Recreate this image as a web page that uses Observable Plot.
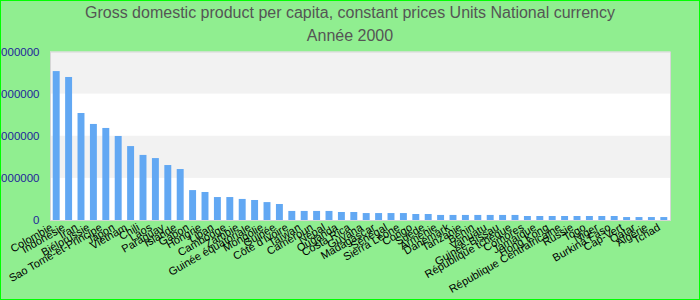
<!DOCTYPE html>
<html><head><meta charset="utf-8">
<script src="https://cdn.jsdelivr.net/npm/d3@7"></script>
<script src="https://cdn.jsdelivr.net/npm/@observablehq/plot@0.6"></script>
<style>
html,body{margin:0;padding:0;background:#90ee90;}
#wrap{position:relative;width:700px;height:300px;background:#90ee90;overflow:hidden;font-family:"Liberation Sans",Arial,sans-serif;}
#border{position:absolute;left:0;top:0;width:700px;height:300px;box-sizing:border-box;border:1px solid #00ff00;pointer-events:none;}
#title{position:absolute;top:3px;left:0;width:700px;text-align:center;font-size:16px;color:#555;line-height:19px;white-space:nowrap;}
#sub{position:absolute;top:26px;left:0;width:700px;text-align:center;font-size:16px;color:#555;line-height:19px;}
#chart{position:absolute;top:0;left:0;}
</style></head>
<body>
<div id="wrap">
  <div id="chart"></div>
  <div id="title">Gross domestic product per capita, constant prices Units National currency</div>
  <div id="sub">Année 2000</div>
  <div id="border"></div>
</div>
<script>
const countries = ["Colombie","Indonésie","Iran","Biélorussie","Sao Tomé-et-Principe","Japon","Vietnam","Chili","Laos","Paraguay",
  "Islande","Gabon","Hongrie","Liban","Cambodge","Zambie","Guinée équatoriale","Mongolie","Guinée","Côte d'Ivoire",
  "Taïwan","Cameroun","Népal","Ouganda","Costa Rica","Guyana","Madagascar","Sénégal","Sierra Leone","Congo",
  "Suède","Arménie","Danemark","Tanzanie","Bénin","Vanuatu","Guinée-Bissau","République tchèque","Comores","Jamaïque",
  "Hong Kong","République Centrafricaine","Russie","Togo","Niger","Burkina Faso","Cap-Vert","Qatar","Algérie","Tchad"];
const values = [7070000,6790000,5080000,4560000,4370000,3990000,3510000,3090000,2940000,2610000,
  2420000,1420000,1330000,1090000,1090000,1000000,950000,850000,760000,430000,
  430000,430000,430000,380000,380000,330000,330000,330000,330000,285000,
  285000,240000,240000,240000,240000,240000,240000,240000,190000,190000,
  190000,190000,190000,190000,190000,190000,140000,140000,140000,140000];
const yTicks = [0,2000000,4000000,6000000,8000000];

const data = countries.map((c,i)=>({country:c, value:values[i]}));
const bands = [];
for (let i = 1; i < yTicks.length; i += 2) bands.push({y1: yTicks[i], y2: yTicks[i+1]});

const chart = Plot.plot({
  width: 700, height: 300,
  marginLeft: 50, marginRight: 30, marginTop: 51.5, marginBottom: 80,
  style: {background: "transparent", fontFamily: "'Liberation Sans', Arial, sans-serif", fontSize: "11px"},
  x: {domain: countries, paddingInner: 0.44, paddingOuter: 0.22, round: false, label: null},
  y: {domain: [0, 8000000], label: null},
  marks: [
    Plot.frame({fill: "white"}),
    Plot.rect(bands, {y1: "y1", y2: "y2", fill: "#f2f2f2"}),
    Plot.barY(data, {x: "country", y: "value", fill: "#62a8f3"}),
    Plot.frame({stroke: "#d6d6d6"}),
    Plot.axisY({ticks: yTicks, tickSize: 0, tickPadding: 11, tickFormat: d3.format("d"), fill: "#1f1f9a", fontSize: 11.5, label: null}),
    Plot.axisX({tickRotate: -30, tickSize: 0, tickPadding: 6, dx: -5, fill: "black", fontSize: 11, label: null})
  ]
});
document.getElementById("chart").appendChild(chart);
</script>
</body></html>
